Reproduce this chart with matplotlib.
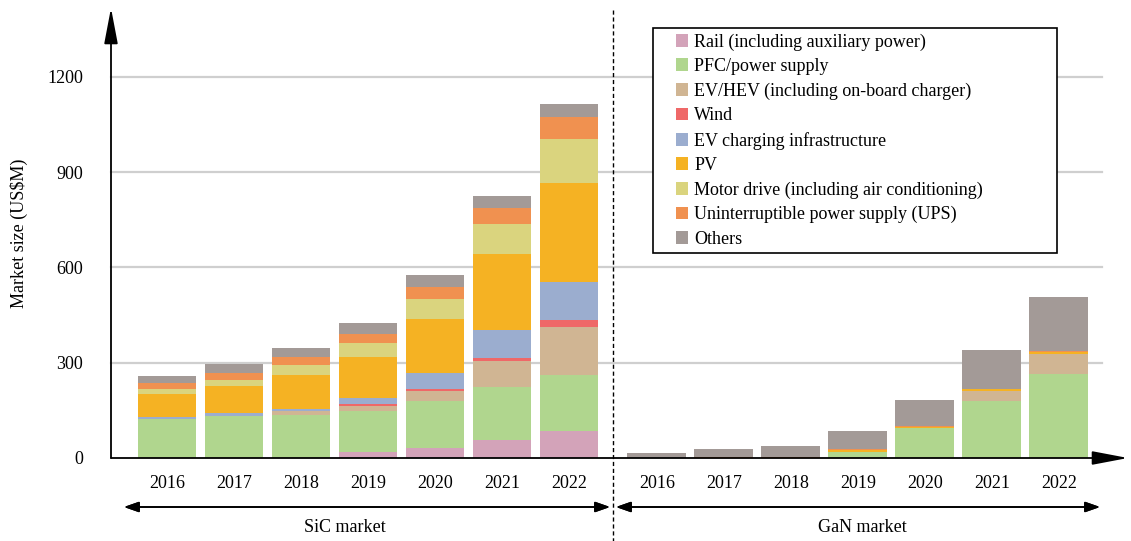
import matplotlib
matplotlib.use("Agg")
import matplotlib.pyplot as plt
import numpy as np
from matplotlib.patches import Rectangle
from matplotlib.legend_handler import HandlerPatch
from matplotlib.lines import Line2D

plt.rcParams['font.family'] = ['Liberation Serif', 'DejaVu Serif']

years = ['2016', '2017', '2018', '2019', '2020', '2021', '2022']
segments = ['Rail (including auxiliary power)', 'PFC/power supply',
            'EV/HEV (including on-board charger)', 'Wind',
            'EV charging infrastructure', 'PV',
            'Motor drive (including air conditioning)',
            'Uninterruptible power supply (UPS)', 'Others']
colors = ['#D3A3B9', '#B0D68E', '#D0B593', '#EF6868', '#9BADCF',
          '#F5B223', '#DAD47E', '#F09150', '#A39A97']

# SiC market values (US$M) per segment, 2016..2022
sic_rail   = [0, 0, 0, 20, 32, 58, 86]
sic_pfc    = [123, 132, 135, 128, 148, 166, 175]
sic_evhev  = [0, 0, 13, 16, 31, 82, 152]
sic_wind   = [0, 0, 0, 6, 6, 9, 22]
sic_evch   = [6, 10, 6, 20, 51, 88, 119]
sic_pv     = [74, 85, 107, 128, 170, 240, 312]
sic_motor  = [14, 19, 32, 44, 63, 94, 138]
sic_ups    = [19, 22, 25, 29, 38, 50, 70]
sic_others = [22, 29, 28, 34, 37, 38, 41]

# GaN market values (US$M) per segment, 2016..2022
gan_rail   = [0, 0, 0, 0, 0, 0, 0]
gan_pfc    = [0, 0, 0, 19, 94, 180, 265]
gan_evhev  = [0, 0, 0, 0, 0, 32, 63]
gan_wind   = [0, 0, 0, 0, 0, 0, 0]
gan_evch   = [0, 0, 0, 0, 0, 0, 0]
gan_pv     = [0, 0, 0, 6, 5, 4, 6]
gan_motor  = [0, 0, 0, 0, 0, 0, 0]
gan_ups    = [0, 3, 3, 3, 2, 2, 4]
gan_others = [16, 25, 35, 57, 82, 123, 170]

sic = [sic_rail, sic_pfc, sic_evhev, sic_wind, sic_evch, sic_pv, sic_motor, sic_ups, sic_others]
gan = [gan_rail, gan_pfc, gan_evhev, gan_wind, gan_evch, gan_pv, gan_motor, gan_ups, gan_others]

W, H = 1131, 541
fig = plt.figure(figsize=(W / 100, H / 100), dpi=100)
ax_left, ax_right, ax_bottom, ax_top = 111, 1131, 458, 8
ax = fig.add_axes([ax_left / W, 1 - ax_bottom / H, (ax_right - ax_left) / W, (ax_bottom - ax_top) / H])

unit = 67.0
x0pix = 167.0
x_sic = np.arange(7)
x_gan = np.arange(7) + 7.31
ax.set_xlim((ax_left - x0pix) / unit, (ax_right - x0pix) / unit)
ax.set_ylim(0, 1417)

# gridlines
grid_end = (1102 - x0pix) / unit
for yv in [300, 600, 900, 1200]:
    ax.plot([ax.get_xlim()[0], grid_end], [yv, yv], color='#cfcfcf', lw=1.6, zorder=0, clip_on=False)

bw = 0.88
for xs, data in [(x_sic, sic), (x_gan, gan)]:
    bottom = np.zeros(7)
    for i, vals in enumerate(data):
        v = np.array(vals, dtype=float)
        ax.bar(xs, v, bw, bottom=bottom, color=colors[i], linewidth=0, zorder=2)
        bottom += v

for s in ax.spines.values():
    s.set_visible(False)

ax.set_yticks([0, 300, 600, 900, 1200])
ax.set_yticklabels(['0', '300', '600', '900', '1200'])
ax.set_xticks(list(x_sic) + list(x_gan))
ax.set_xticklabels(years + years)
ax.tick_params(axis='both', length=0, labelsize=13)
ax.tick_params(axis='y', pad=20)
ax.tick_params(axis='x', pad=12)

ax.set_ylabel('Market size (US\\$M)', fontsize=13, labelpad=14)

# axis arrows
arrow_kw = dict(arrowstyle='-|>,head_length=2.0,head_width=0.38', color='black', lw=1.3,
                mutation_scale=11, shrinkA=0, shrinkB=0)
ax.annotate('', xy=(0, 1), xytext=(0, 0), xycoords='axes fraction',
            arrowprops=arrow_kw, annotation_clip=False)
ax.annotate('', xy=((1128 - ax_left) / (ax_right - ax_left), 0), xytext=(0, 0),
            xycoords='axes fraction', arrowprops=arrow_kw, annotation_clip=False)

# dashed separator
fig.add_artist(Line2D([613 / W, 613 / W], [1 - 10 / H, 0], color='black', lw=1, ls=(0, (3, 2))))

# market arrows
def fpt(px, py):
    return (px / W, 1 - py / H)

for (xa, xb, label, xc) in [(124, 610, 'SiC market', 345), (616, 1100, 'GaN market', 862)]:
    fig.add_artist(plt.annotate('', xy=fpt(xb, 507), xytext=fpt(xa, 507), xycoords='figure fraction',
                                arrowprops=dict(arrowstyle='<|-|>,head_length=1.0,head_width=0.35',
                                                color='black', lw=1.2, mutation_scale=9,
                                                shrinkA=0, shrinkB=0)))
    fig.text(xc / W, 1 - 527 / H, label, ha='center', va='center', fontsize=13)

class SquareHandler(HandlerPatch):
    def create_artists(self, legend, orig_handle, xdescent, ydescent, width, height, fontsize, trans):
        h = height
        p = Rectangle((-xdescent + width - h, -ydescent), h, h)
        self.update_prop(p, orig_handle, legend)
        p.set_linewidth(0)
        p.set_transform(trans)
        return [p]

handles = [Rectangle((0, 0), 1, 1, facecolor=c, linewidth=0) for c in colors]
leg = fig.legend(handles, segments, loc='upper left',
                 bbox_to_anchor=(653 / W, 1 - 251 / H, (1057 - 653) / W, (251 - 28) / H),
                 mode='expand', fontsize=13, frameon=True, fancybox=False,
                 edgecolor='black', framealpha=1, borderaxespad=0, borderpad=0.3,
                 handlelength=1.66, handleheight=0.7, handletextpad=0.33, labelspacing=0.41,
                 handler_map={Rectangle: SquareHandler()})
leg.get_frame().set_linewidth(1.2)

fig.savefig('out.png', dpi=100)
